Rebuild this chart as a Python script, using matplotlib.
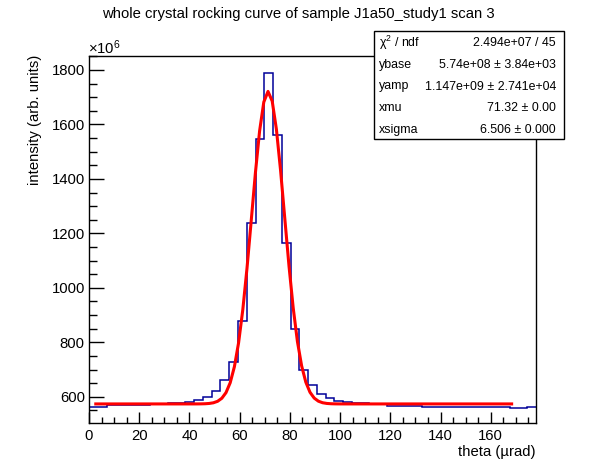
import numpy as np
import matplotlib
matplotlib.use('Agg')
import matplotlib.pyplot as plt
from matplotlib.patches import Rectangle
from matplotlib.ticker import MultipleLocator

plt.rcParams['font.family'] = ['Liberation Sans', 'DejaVu Sans']
plt.rcParams['mathtext.fontset'] = 'custom'
plt.rcParams['mathtext.rm'] = 'Liberation Sans'
plt.rcParams['mathtext.it'] = 'Liberation Sans:italic'

# histogram contents (units of 1e6), 51 bins over 0..178 urad
counts = [563, 563, 569, 569, 569, 569, 569, 573, 573, 576,
          576, 582, 589, 599, 622, 660, 729, 880, 1237, 1546,
          1789, 1560, 1165, 848, 698, 642, 611, 596, 585, 582,
          576, 576, 572, 572, 567, 567, 567, 567, 563, 563,
          563, 563, 563, 563, 563, 563, 563, 563, 560, 560,
          564]
x_lo, x_hi = 0.0, 178.0

# fit result (gauss + constant)
ybase = 5.74e8
yamp = 1.147e9
xmu = 71.32
xsigma = 6.506
fit_lo, fit_hi = 2.7, 168.3

stat_names = ['χ$^{2}$ / ndf', 'ybase', 'yamp', 'xmu', 'xsigma']
stat_vals = ['2.494e+07 / 45', '5.74e+08 ± 3.84e+03', '1.147e+09 ± 2.741e+04',
             '71.32 ± 0.00', '6.506 ± 0.000']

W, H = 596, 472
fs = 10.7
fig = plt.figure(figsize=(W / 100, H / 100), dpi=100)
ax = fig.add_axes([89 / W, 1 - 423 / H, (536 - 89) / W, (423 - 56) / H])

edges = np.linspace(x_lo, x_hi, len(counts) + 1)
ax.stairs(counts, edges, baseline=None, color='#000099', lw=1.1)

xf = np.linspace(fit_lo, fit_hi, 100)
yf = (ybase + yamp * np.exp(-0.5 * ((xf - xmu) / xsigma) ** 2)) / 1e6
ax.plot(xf, yf, color='red', lw=2.2)

ax.set_xlim(x_lo, x_hi)
ax.set_ylim(504, 1851)
ax.xaxis.set_major_locator(MultipleLocator(20))
ax.xaxis.set_minor_locator(MultipleLocator(5))
ax.yaxis.set_major_locator(MultipleLocator(200))
ax.yaxis.set_minor_locator(MultipleLocator(50))
ax.tick_params(which='both', direction='in', top=False, right=False, labelsize=fs, width=1)
ax.tick_params(axis='y', which='major', length=11, pad=3)
ax.tick_params(axis='y', which='minor', length=5.5)
ax.tick_params(axis='x', which='major', length=8, pad=4)
ax.tick_params(axis='x', which='minor', length=4)
for s in ax.spines.values():
    s.set_linewidth(1)

fig.text(88 / W, 1 - 48 / H, r'$\times$10$^{6}$', fontsize=fs, ha='left', va='center')
fig.text(298 / W, 1 - 14 / H, 'whole crystal rocking curve of sample J1a50_study1 scan 3',
         fontsize=fs, ha='center', va='center')
fig.text(35 / W, 1 - 55 / H, 'intensity (arb. units)', fontsize=fs, rotation=90,
         ha='center', va='top')
fig.text(536 / W, 1 - 452 / H, 'theta (µrad)', fontsize=fs, ha='right', va='center')

# stats box
bx0, bx1, by0, by1 = 374, 564, 31, 139
fig.patches.append(Rectangle((bx0 / W, 1 - by1 / H), (bx1 - bx0) / W, (by1 - by0) / H,
                             transform=fig.transFigure, facecolor='white',
                             edgecolor='black', lw=1, zorder=5))
row_h = (by1 - by0) / len(stat_names)
for i, (n, v) in enumerate(zip(stat_names, stat_vals)):
    yc = by0 + row_h * (i + 0.5) + 1.5
    fig.text(379 / W, 1 - yc / H, n, fontsize=8.9, ha='left', va='center', zorder=6)
    fig.text(556 / W, 1 - yc / H, v, fontsize=8.9, ha='right', va='center', zorder=6)

fig.savefig('out.png', dpi=100)
